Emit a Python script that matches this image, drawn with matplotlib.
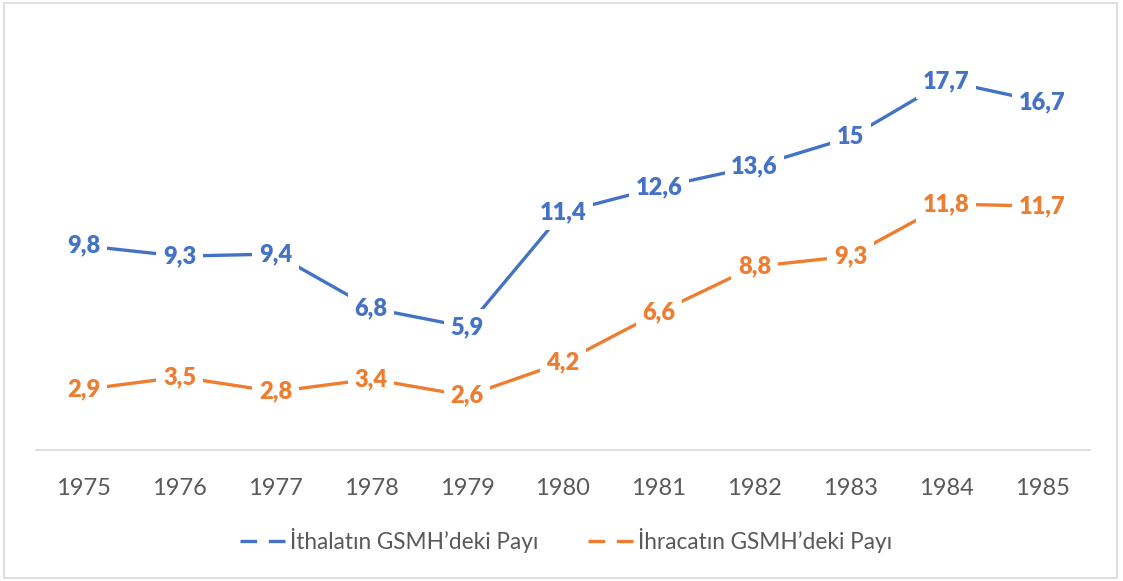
import matplotlib.pyplot as plt
from matplotlib.lines import Line2D
from matplotlib.patches import Rectangle

years = ["1975", "1976", "1977", "1978", "1979", "1980", "1981", "1982", "1983", "1984", "1985"]
ithalat = [9.8, 9.3, 9.4, 6.8, 5.9, 11.4, 12.6, 13.6, 15, 17.7, 16.7]
ihracat = [2.9, 3.5, 2.8, 3.4, 2.6, 4.2, 6.6, 8.8, 9.3, 11.8, 11.7]
names = ["İthalatın GSMH’deki Payı", "İhracatın GSMH’deki Payı"]

blue = "#4472C4"
orange = "#ED7D31"

plt.rcParams['font.family'] = ['Lato', 'DejaVu Sans']

fig = plt.figure(figsize=(11.23, 5.81), dpi=100)
ax = fig.add_axes([0.032, 0.2255, 0.9385, 0.7175])

x = list(range(len(years)))
for vals, col in [(ithalat, blue), (ihracat, orange)]:
    ax.plot(x, vals, color=col, linewidth=2.4, zorder=2, solid_capstyle='butt')
    for xi, v in zip(x, vals):
        lbl = f"{v:g}".replace(".", ",")
        ax.text(xi, v, lbl, ha='center', va='center', color=col, fontsize=17,
                fontweight='heavy', zorder=3,
                bbox=dict(boxstyle='square,pad=0.28', facecolor='white', edgecolor='none'))

ax.set_xlim(-0.5, 10.5)
ax.set_ylim(0, 20)
ax.set_xticks(x)
ax.set_xticklabels(years, fontsize=17, color='#595959')
ax.tick_params(axis='x', length=0, pad=20)
ax.set_yticks([])
for s in ['top', 'right', 'left']:
    ax.spines[s].set_visible(False)
ax.spines['bottom'].set_color('#D9D9D9')
ax.spines['bottom'].set_linewidth(1.2)

handles = [Line2D([0], [0], color=blue, linewidth=2.4, linestyle=(0, (5, 3.5))),
           Line2D([0], [0], color=orange, linewidth=2.4, linestyle=(0, (5, 3.5)))]
leg = fig.legend(handles, names, loc='center', bbox_to_anchor=(0.504, 0.07), ncol=2,
                 frameon=False, fontsize=16.3, handlelength=2.1, handletextpad=0.1,
                 columnspacing=2.2)
for t in leg.get_texts():
    t.set_color('#595959')

fig.patches.append(Rectangle((0.004, 0.005), 0.991, 0.99, transform=fig.transFigure,
                             fill=False, edgecolor='#D9D9D9', linewidth=1.2))

fig.savefig("out.png", dpi=100)
